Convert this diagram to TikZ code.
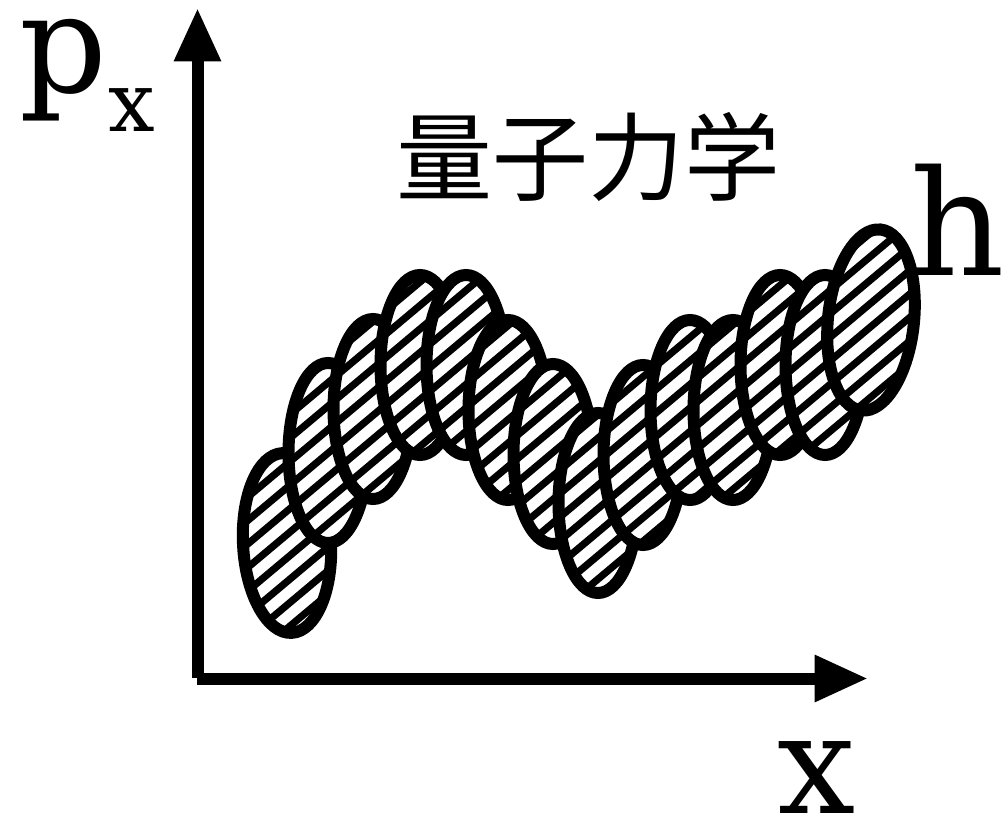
\documentclass[tikz,border=0pt]{standalone}
\usepackage{fontspec}
\setmainfont{DejaVu Serif}
\newfontfamily\cjkfont{Noto Sans CJK JP}
\usetikzlibrary{arrows.meta}
\tikzset{
  axis/.style={line width=9pt, line cap=butt, -{Triangle[length=40pt,width=33pt]}},
  blobline/.style={draw=black, line width=9pt},
  hatchline/.style={draw=black, line width=5.4pt},
  lbl/.style={inner sep=0pt, outer sep=0pt, anchor=base west}
}
% #1 centre coordinate name, #2 x radius, #3 y radius, #4 rotation
\newcommand\drawblob[4]{%
  \begin{scope}
    \path[clip, rotate around={#4:(#1)}] (#1) ellipse [x radius=#2, y radius=#3];
    \fill[white] ([shift={(-120,-120)}]#1) rectangle ([shift={(120,120)}]#1);
    \foreach \k in {-68,...,-11}
      \draw[hatchline] ({\k*18*(-0.6428)},{\k*18*0.7660}) ++(220:1300) -- ++(40:2600);
  \end{scope}
  \draw[blobline, rotate around={#4:(#1)}] (#1) ellipse [x radius=#2, y radius=#3];
}
\begin{document}
\begin{tikzpicture}[x=0.75pt,y=0.75pt]
\useasboundingbox (0,0) rectangle (1001,-817);
\fill[white] (0,0) rectangle (1001,-817);
% axes
\coordinate (ybot) at (197.5,-678);
\coordinate (ytip) at (197.5,-8);
\coordinate (xleft) at (197,-678.5);
\coordinate (xtip) at (868,-678.5);
\draw[axis] (ybot) -- (ytip);
\draw[axis] (xleft) -- (xtip);
% ellipse centres
\coordinate (e1)  at (287,-543);
\coordinate (e2)  at (328,-453);
\coordinate (e3)  at (373,-409);
\coordinate (e4)  at (420,-365);
\coordinate (e5)  at (466,-365);
\coordinate (e6)  at (508,-410);
\coordinate (e7)  at (553,-454);
\coordinate (e8)  at (598,-503);
\coordinate (e9)  at (643,-455);
\coordinate (e10) at (690,-410);
\coordinate (e11) at (733,-410);
\coordinate (e12) at (780,-365);
\coordinate (e13) at (825,-365);
\coordinate (e14) at (871,-320);
% ellipses, each drawn on top of the previous one
\drawblob{e1}{44}{90}{3}
\drawblob{e2}{39.5}{90}{0}
\drawblob{e3}{39.5}{90}{0}
\drawblob{e4}{39.5}{90}{0}
\drawblob{e5}{39.5}{90}{0}
\drawblob{e6}{39.5}{90}{0}
\drawblob{e7}{39.5}{90}{0}
\drawblob{e8}{39.5}{90}{0}
\drawblob{e9}{39.5}{90}{0}
\drawblob{e10}{39.5}{90}{0}
\drawblob{e11}{39.5}{90}{0}
\drawblob{e12}{39.5}{90}{0}
\drawblob{e13}{39.5}{90}{0}
\drawblob{e14}{43}{91}{-6}
% labels
\node[lbl] (px) at (19,-93) {\fontsize{103}{103}\selectfont p\kern1pt\raisebox{-29pt}{\fontsize{62}{62}\selectfont x}};
\node[lbl] (xl) at (777,-813) {\fontsize{104}{104}\selectfont x};
\node[lbl] (hl) at (910,-275) {\fontsize{110}{110}\selectfont h};
\node[lbl] (title) at (396,-194) {\cjkfont\fontsize{72}{72}\selectfont 量子力学};
\end{tikzpicture}
\end{document}
